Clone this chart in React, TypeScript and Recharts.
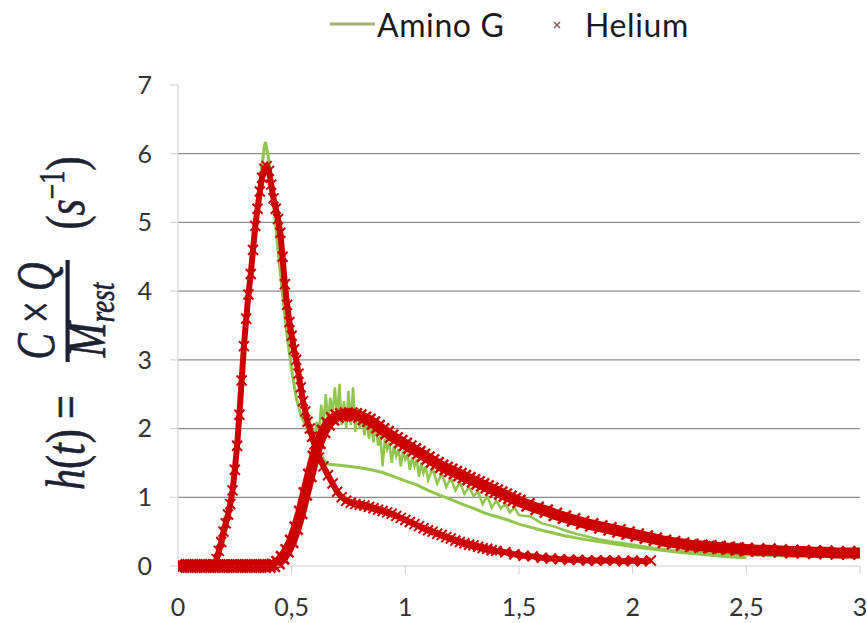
import { ComposedChart, Line, XAxis, YAxis, CartesianGrid, Legend } from 'recharts';

// x = time (s), y = h(t) (s^-1)
const aminoPulse: [number, number][] = [
  [0, 0], [0.04, 0], [0.08, 0], [0.12, 0], [0.16, 0.02], [0.18, 0.15], [0.2, 0.35], [0.22, 0.65],
  [0.24, 1.15], [0.26, 1.8], [0.28, 2.65], [0.3, 3.5], [0.32, 4.3], [0.34, 5.0], [0.36, 5.6],
  [0.38, 6.1], [0.385, 6.17], [0.4, 5.9], [0.42, 5.3], [0.44, 4.6], [0.46, 3.95], [0.48, 3.35],
  [0.5, 2.85], [0.52, 2.45], [0.54, 2.2], [0.56, 2.05], [0.58, 1.95], [0.6, 1.85], [0.62, 1.7],
  [0.64, 1.55], [0.66, 1.48], [0.7, 1.47], [0.75, 1.45], [0.8, 1.43], [0.85, 1.4], [0.9, 1.36],
  [0.95, 1.3], [1, 1.24], [1.05, 1.18], [1.1, 1.1], [1.15, 1.03], [1.2, 0.97], [1.25, 0.9],
  [1.3, 0.84], [1.35, 0.77], [1.4, 0.72], [1.45, 0.67], [1.5, 0.61], [1.6, 0.52], [1.7, 0.44],
  [1.8, 0.38], [1.9, 0.33], [2, 0.28], [2.1, 0.24], [2.2, 0.2], [2.3, 0.17], [2.4, 0.14], [2.5, 0.12],
];

const aminoBroad: [number, number][] = [
  [0, 0], [0.2, 0], [0.44, 0], [0.46, 0.1], [0.48, 0.2], [0.5, 0.35], [0.52, 0.55], [0.54, 0.8],
  [0.56, 1.1], [0.58, 1.45], [0.6, 1.85], [0.61, 2.1], [0.62, 1.95], [0.63, 2.35], [0.64, 2.05],
  [0.65, 2.5], [0.66, 2.1], [0.67, 2.45], [0.68, 2.2], [0.69, 2.6], [0.7, 2.15], [0.71, 2.65],
  [0.72, 2.05], [0.73, 2.4], [0.74, 2.0], [0.75, 2.55], [0.76, 2.05], [0.77, 2.6], [0.78, 1.95],
  [0.79, 2.3], [0.8, 2.0], [0.81, 2.2], [0.82, 1.9], [0.83, 2.15], [0.84, 1.85], [0.85, 2.05],
  [0.86, 1.8], [0.87, 2.1], [0.88, 1.75], [0.89, 1.9], [0.9, 1.45], [0.91, 1.85], [0.92, 1.7],
  [0.93, 1.8], [0.94, 1.5], [0.95, 1.75], [0.96, 1.6], [0.97, 1.7], [0.98, 1.45], [0.99, 1.68],
  [1.0, 1.55], [1.01, 1.62], [1.02, 1.4], [1.03, 1.58], [1.04, 1.45], [1.05, 1.55], [1.06, 1.3],
  [1.07, 1.5], [1.08, 1.35], [1.09, 1.45], [1.1, 1.25], [1.12, 1.42], [1.14, 1.2], [1.16, 1.35],
  [1.18, 1.15], [1.2, 1.28], [1.22, 1.1], [1.24, 1.22], [1.26, 1.05], [1.28, 1.15], [1.3, 1.02],
  [1.32, 1.08], [1.34, 0.9], [1.36, 1.02], [1.38, 0.85], [1.4, 0.95], [1.42, 0.84], [1.44, 0.9],
  [1.46, 0.78], [1.48, 0.85], [1.5, 0.74], [1.55, 0.72], [1.6, 0.62], [1.65, 0.58], [1.7, 0.52],
  [1.75, 0.47], [1.8, 0.43], [1.85, 0.39], [1.9, 0.36], [2, 0.31], [2.1, 0.26], [2.2, 0.22],
  [2.3, 0.19], [2.4, 0.17], [2.5, 0.16], [2.6, 0.15], [2.7, 0.14], [2.8, 0.14], [2.9, 0.13], [3, 0.13],
];

const heliumPulse: [number, number][] = [
  [0, 0], [0.02, 0], [0.04, 0], [0.06, 0], [0.08, 0], [0.1, 0], [0.12, 0], [0.14, 0], [0.16, 0.02],
  [0.17, 0.1], [0.18, 0.22], [0.19, 0.35], [0.2, 0.5], [0.21, 0.62], [0.22, 0.75], [0.23, 0.9],
  [0.24, 1.1], [0.25, 1.4], [0.26, 1.75], [0.27, 2.2], [0.28, 2.7], [0.29, 3.2], [0.3, 3.6],
  [0.31, 3.95], [0.32, 4.25], [0.33, 4.6], [0.34, 4.95], [0.35, 5.2], [0.36, 5.45], [0.37, 5.65],
  [0.38, 5.78], [0.39, 5.82], [0.4, 5.75], [0.41, 5.55], [0.42, 5.35], [0.43, 5.2], [0.44, 5.05],
  [0.45, 4.85], [0.46, 4.5], [0.47, 4.1], [0.48, 3.8], [0.49, 3.55], [0.5, 3.35], [0.51, 3.15],
  [0.52, 3.0], [0.53, 2.8], [0.54, 2.6], [0.55, 2.4], [0.56, 2.25], [0.57, 2.1], [0.58, 2.0],
  [0.59, 1.88], [0.6, 1.77], [0.61, 1.68], [0.62, 1.58], [0.64, 1.45], [0.66, 1.32], [0.68, 1.2],
  [0.7, 1.08], [0.72, 1.0], [0.74, 0.95], [0.76, 0.92], [0.78, 0.9], [0.8, 0.89], [0.82, 0.88],
  [0.84, 0.86], [0.86, 0.84], [0.88, 0.82], [0.9, 0.8], [0.92, 0.78], [0.94, 0.76], [0.96, 0.73],
  [0.98, 0.7], [1.0, 0.67], [1.02, 0.64], [1.04, 0.61], [1.06, 0.58], [1.08, 0.55], [1.1, 0.52],
  [1.12, 0.5], [1.14, 0.47], [1.16, 0.45], [1.18, 0.42], [1.2, 0.4], [1.22, 0.37], [1.24, 0.35],
  [1.26, 0.33], [1.28, 0.31], [1.3, 0.3], [1.32, 0.28], [1.34, 0.26], [1.36, 0.25], [1.38, 0.23],
  [1.4, 0.22], [1.44, 0.2], [1.48, 0.17], [1.52, 0.15], [1.56, 0.14], [1.6, 0.12], [1.64, 0.11],
  [1.68, 0.1], [1.72, 0.09], [1.76, 0.09], [1.8, 0.08], [1.84, 0.08], [1.88, 0.08], [1.92, 0.08],
  [1.96, 0.07], [2.0, 0.08], [2.04, 0.07], [2.08, 0.08],
];

const heliumBroad: [number, number][] = [
  [0, 0], [0.02, 0], [0.04, 0], [0.06, 0], [0.08, 0], [0.1, 0], [0.12, 0], [0.14, 0], [0.16, 0],
  [0.18, 0], [0.2, 0], [0.22, 0], [0.24, 0], [0.26, 0], [0.28, 0], [0.3, 0], [0.32, 0], [0.34, 0],
  [0.36, 0], [0.38, 0], [0.4, 0], [0.42, 0.01], [0.44, 0.05], [0.46, 0.12], [0.48, 0.22],
  [0.5, 0.36], [0.52, 0.55], [0.54, 0.78], [0.56, 1.05], [0.58, 1.32], [0.6, 1.58], [0.62, 1.8],
  [0.64, 1.96], [0.66, 2.07], [0.68, 2.14], [0.7, 2.18], [0.72, 2.2], [0.74, 2.21], [0.76, 2.21],
  [0.78, 2.2], [0.8, 2.18], [0.82, 2.15], [0.84, 2.12], [0.86, 2.08], [0.88, 2.03], [0.9, 1.98],
  [0.92, 1.94], [0.94, 1.89], [0.96, 1.85], [0.98, 1.81], [1.0, 1.77], [1.02, 1.73], [1.04, 1.69],
  [1.06, 1.65], [1.08, 1.61], [1.1, 1.57], [1.12, 1.53], [1.14, 1.49], [1.16, 1.45], [1.18, 1.42],
  [1.2, 1.39], [1.22, 1.36], [1.24, 1.33], [1.26, 1.3], [1.28, 1.27], [1.3, 1.24], [1.32, 1.21],
  [1.34, 1.18], [1.36, 1.15], [1.38, 1.12], [1.4, 1.09], [1.42, 1.06], [1.44, 1.03], [1.46, 1.0],
  [1.48, 0.97], [1.5, 0.94], [1.54, 0.89], [1.58, 0.84], [1.62, 0.8], [1.66, 0.75], [1.7, 0.71],
  [1.74, 0.67], [1.78, 0.63], [1.82, 0.6], [1.86, 0.57], [1.9, 0.54], [1.94, 0.51], [1.98, 0.48],
  [2.02, 0.45], [2.06, 0.42], [2.1, 0.39], [2.14, 0.36], [2.18, 0.34], [2.22, 0.32], [2.26, 0.3],
  [2.3, 0.29], [2.34, 0.28], [2.38, 0.27], [2.42, 0.26], [2.46, 0.25], [2.5, 0.24], [2.55, 0.23],
  [2.6, 0.23], [2.65, 0.22], [2.7, 0.21], [2.75, 0.21], [2.8, 0.2], [2.85, 0.2], [2.9, 0.19],
  [2.95, 0.19], [3.0, 0.19],
];

const xTicks = [0, 0.5, 1, 1.5, 2, 2.5, 3];
const yTicks = [0, 1, 2, 3, 4, 5, 6, 7];
const gridValues = [1, 2, 3, 4, 5, 6];

const GREEN = '#8fc64c';
const RED = '#cc0000';
const INK = '#1c2233';
const tickFont = { fontFamily: 'Lato, sans-serif', fontSize: 25, fill: '#333333' };

const toRows = (pts: [number, number][]) => pts.map(([x, y]) => ({ x, y }));

const makeCross = (s: number, w: number) => (props: any) => {
  const { cx, cy, index } = props;
  if (cx == null || cy == null) return <g key={index} />;
  return (
    <path
      key={index}
      d={`M${cx - s},${cy - s}L${cx + s},${cy + s}M${cx - s},${cy + s}L${cx + s},${cy - s}`}
      stroke={RED}
      strokeWidth={w}
      fill="none"
    />
  );
};

function LegendBox() {
  const t = { fontFamily: 'Lato, sans-serif', fontSize: 32, letterSpacing: 0.6, fill: '#1a1a1a' };
  return (
    <svg width={867} height={48}>
      <line x1={330} y1={24} x2={375} y2={24} stroke="#a3b077" strokeWidth={3} />
      <text x={377} y={37} style={t}>
        Amino G
      </text>
      <path d="M554,22L560,28M554,28L560,22" stroke="#8a5a5a" strokeWidth={1.5} />
      <text x={585} y={37} style={t}>
        Helium
      </text>
    </svg>
  );
}

// rotated formula, stretched in screen-x like the reference
function Formula() {
  const k = 1.3;
  const f = {
    fontFamily: '"Liberation Serif", "DejaVu Serif", serif',
    fontSize: 42,
    fill: INK,
    stroke: INK,
    strokeWidth: 0.5,
  };
  return (
    <g transform={`scale(${k},1) rotate(-90)`}>
      <text x={-490} y={64.5} style={f}>
        <tspan fontStyle="italic">h</tspan>
        <tspan>(</tspan>
        <tspan fontStyle="italic">t</tspan>
        <tspan>) =</tspan>
      </text>
      <text x={-311} y={41.5} textAnchor="middle" textLength={97} lengthAdjust="spacingAndGlyphs" style={f}>
        <tspan fontStyle="italic">C</tspan>
        <tspan> × </tspan>
        <tspan fontStyle="italic">Q</tspan>
      </text>
      <line x1={-362} y1={52} x2={-260} y2={52} stroke={INK} strokeWidth={3.2} />
      <text x={-320} y={81} textAnchor="middle" style={f}>
        <tspan fontStyle="italic">M</tspan>
        <tspan fontStyle="italic" fontSize={27} dy={7}>rest</tspan>
      </text>
      <text x={-193} y={64.5} textAnchor="middle" style={f}>
        <tspan>(</tspan>
        <tspan fontStyle="italic">s</tspan>
        <tspan fontSize={27} dy={-15}>−1</tspan>
        <tspan dy={15}>)</tspan>
      </text>
    </g>
  );
}

export default function App() {
  return (
    <div style={{ position: 'absolute', left: 0, top: 0 }}>
      <ComposedChart width={867} height={623} margin={{ top: 37, right: 7, bottom: 7, left: 118 }}>
        <CartesianGrid vertical={false} horizontalValues={gridValues} stroke="#8c8c8c" strokeWidth={1.3} />
        <XAxis
          type="number"
          dataKey="x"
          domain={[0, 3]}
          ticks={xTicks}
          allowDataOverflow
          height={50}
          tickSize={8}
          tickMargin={24}
          stroke="#d0d0d0"
          tick={tickFont}
          tickFormatter={(v: number) => String(v).replace('.', ',')}
        />
        <YAxis
          type="number"
          domain={[0, 7]}
          ticks={yTicks}
          width={60}
          tickSize={8}
          tickMargin={18}
          stroke="#d0d0d0"
          tick={tickFont}
          label={{ content: () => <Formula /> }}
        />
        <Legend
          verticalAlign="top"
          wrapperStyle={{ top: 0, left: 0, width: 867, height: 48 }}
          content={() => <LegendBox />}
        />
        <Line
          data={toRows(aminoPulse)}
          dataKey="y"
          name="Amino G"
          stroke={GREEN}
          strokeWidth={3}
          dot={false}
          isAnimationActive={false}
        />
        <Line
          data={toRows(aminoBroad)}
          dataKey="y"
          name="Amino G broad"
          legendType="none"
          stroke={GREEN}
          strokeWidth={2.5}
          dot={false}
          isAnimationActive={false}
        />
        <Line
          data={toRows(heliumPulse)}
          dataKey="y"
          name="Helium"
          stroke={RED}
          strokeWidth={6}
          dot={makeCross(5, 2)}
          isAnimationActive={false}
        />
        <Line
          data={toRows(heliumBroad)}
          dataKey="y"
          name="Helium broad"
          legendType="none"
          stroke={RED}
          strokeWidth={11}
          dot={makeCross(6.5, 2.5)}
          isAnimationActive={false}
        />
      </ComposedChart>
    </div>
  );
}
